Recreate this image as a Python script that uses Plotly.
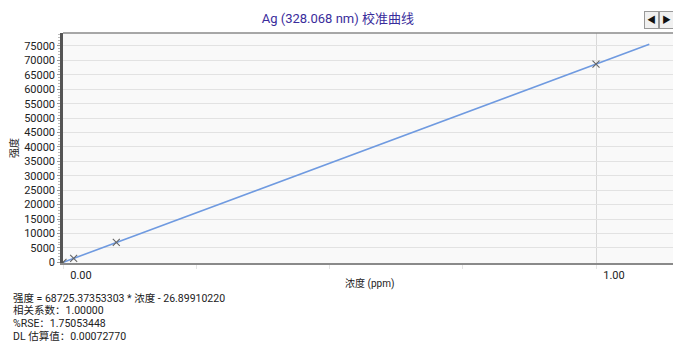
import plotly.graph_objects as go

# Calibration standards (concentration in ppm, measured intensity)
std_conc = [0.0, 0.02, 0.10, 1.00]
std_intensity = [-30, 1350, 6880, 68700]

# Linear fit coefficients
slope = 68725.37353303
intercept = -26.89910220
fit_conc = [0.0, 1.10]
fit_intensity = [slope * c + intercept for c in fit_conc]

x_ticks = [0.0, 1.0]
x_tick_text = ["0.00", "1.00"]
y_ticks = list(range(0, 80000, 5000))
y_tick_text = [str(v) for v in y_ticks]

stats_lines = [
    "强度 = 68725.37353303 * 浓度 - 26.89910220",
    "相关系数：1.00000",
    "%RSE：1.75053448",
    "DL 估算值：0.00072770",
]

FONT = "Roboto, 'Noto Sans CJK SC', sans-serif"
W, H = 673, 342
ML, MR, MT, MB = 63, 0, 33, 79
pw = W - ML - MR
ph = H - MT - MB


def px_x(xpix):
    return (xpix - ML) / pw


def px_y(ypix):
    return (H - MB - ypix) / ph


fig = go.Figure()

fig.add_trace(go.Scatter(
    x=fit_conc, y=fit_intensity, mode="lines",
    line=dict(color="#6f9ae0", width=1.6),
    hoverinfo="skip", showlegend=False,
))
fig.add_trace(go.Scatter(
    x=std_conc, y=std_intensity, mode="markers",
    marker=dict(symbol="x-thin", size=7, line=dict(color="#666", width=1.1)),
    showlegend=False,
))

fig.update_layout(
    width=W, height=H,
    margin=dict(l=ML, r=MR, t=MT, b=MB),
    paper_bgcolor="white",
    plot_bgcolor="#f9f9f9",
    font=dict(family=FONT, size=11, color="#222"),
    title=dict(
        text="Ag (328.068 nm) 校准曲线",
        x=0.502, xanchor="center", y=0.947, yanchor="middle",
        font=dict(family=FONT, size=13, color="#3a2d9c"),
    ),
    xaxis=dict(
        range=[0.0, (W - ML) / 533.0],
        tickvals=x_ticks, ticktext=x_tick_text,
        ticks="", ticklabelshift=18, ticklabelstandoff=1,
        showgrid=True, gridcolor="#d8d8d8", gridwidth=1,
        zeroline=False,
        showline=True, linecolor="#8a8a8a", linewidth=2,
        tickfont=dict(size=11, color="#222"),
        minor=dict(dtick=0.25, ticks="outside", ticklen=4, tickcolor="#e4e4e4", showgrid=False),
    ),
    yaxis=dict(
        range=[-250, 79500],
        tickvals=y_ticks, ticktext=y_tick_text,
        ticks="outside", ticklen=3, tickcolor="#999",
        showgrid=True, gridcolor="#e2e2e2", gridwidth=1,
        zeroline=False,
        showline=True, linecolor="#555", linewidth=2.5,
        tickfont=dict(size=11, color="#222"),
        minor=dict(dtick=1000, ticks="outside", ticklen=2, tickcolor="#bbb", showgrid=False),
    ),
)

# Axis titles
fig.add_annotation(text="浓度 (ppm)", xref="paper", yref="paper",
                   x=px_x(369), y=px_y(283), xanchor="center", yanchor="middle",
                   showarrow=False, font=dict(size=10, color="#222"))
fig.add_annotation(text="强度", xref="paper", yref="paper", textangle=-90,
                   x=px_x(14), y=px_y(148), xanchor="center", yanchor="middle",
                   showarrow=False, font=dict(size=10, color="#222"))

# Top frame line of the plot area
fig.add_shape(type="line", xref="paper", yref="paper", x0=0, x1=1, y0=1, y1=1,
              line=dict(color="#8a8a8a", width=1.5))

# Fit statistics below the chart
for i, line in enumerate(stats_lines):
    fig.add_annotation(
        text=line, xref="paper", yref="paper",
        x=px_x(11), y=px_y(298 + i * 12.7),
        xanchor="left", yanchor="middle", showarrow=False,
        font=dict(size=10.5, color="#222"), align="left",
    )

# Navigation buttons in the top-right corner
for xpix, sym in [(651, "◀"), (666, "▶")]:
    fig.add_annotation(
        text=sym, xref="paper", yref="paper",
        x=px_x(xpix), y=px_y(20),
        xanchor="center", yanchor="middle", showarrow=False,
        font=dict(size=9, color="#111"),
        bgcolor="#f0f0f0", bordercolor="#999", borderwidth=1, borderpad=2,
        width=9, height=12,
    )

fig.write_html("out.html")
